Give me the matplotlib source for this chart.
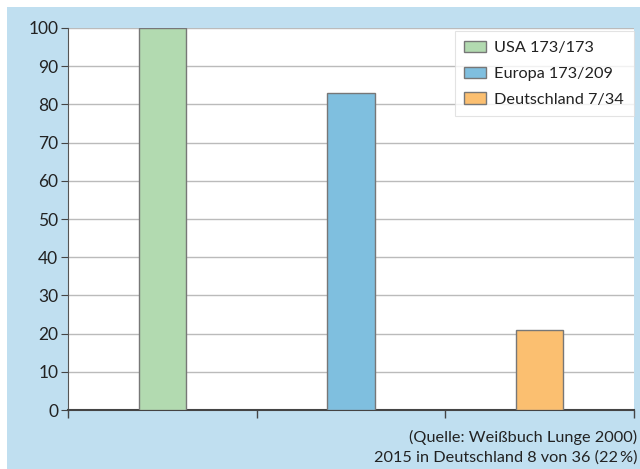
import matplotlib
matplotlib.use("Agg")
import matplotlib.pyplot as plt
from matplotlib.patches import Rectangle

plt.rcParams['font.family'] = ['Lato', 'DejaVu Sans']

labels = ["USA 173/173", "Europa 173/209", "Deutschland 7/34"]
values = [100, 83, 21]
colors = ["#b2dab0", "#7fbfdf", "#fbbf70"]
yticks = list(range(0, 101, 10))
notes = ["(Quelle: Weißbuch Lunge 2000)", "2015 in Deutschland 8 von 36 (22\u2009%)"]

fig = plt.figure(figsize=(6.4, 4.69), dpi=100)
fig.patch.set_facecolor("white")
fig.patches.append(Rectangle((7/640, 0), 633/640, (469-7)/469, transform=fig.transFigure,
                             facecolor="#c0dff0", edgecolor="none", zorder=-10))

ax = fig.add_axes([68/640, (469-410)/469, (634-68)/640, (410-28)/469])
ax.set_facecolor("white")
x = range(len(values))
bars = ax.bar(x, values, width=0.25, color=colors, edgecolor="#777777", linewidth=1, zorder=3)

ax.set_xlim(-0.5, len(values) - 0.5)
ax.set_ylim(0, 100)
ax.set_yticks(yticks)
ax.set_xticks([i - 0.5 for i in range(len(values) + 1)])
ax.set_xticklabels([])
ax.yaxis.grid(True, color="#bbbbbb", linewidth=1, zorder=0)
ax.set_axisbelow(True)
for s in ["top", "right"]:
    ax.spines[s].set_visible(False)
ax.spines["left"].set_color("#555555")
ax.spines["bottom"].set_color("#444444")
ax.spines["bottom"].set_linewidth(1.5)
ax.tick_params(axis="y", length=5, color="#444444", labelsize=12.5, labelcolor="#222222", pad=2)
ax.tick_params(axis="x", length=6, color="#444444", width=1)

leg = ax.legend(bars, labels, loc="upper right", bbox_to_anchor=(1.0, 0.992), fontsize=11.7,
                frameon=True, fancybox=False, borderaxespad=0, handlelength=1.3,
                handleheight=0.7, labelspacing=0.7, handletextpad=0.55, borderpad=0.6)
leg.get_frame().set_edgecolor("#dddddd")
leg.get_frame().set_linewidth(0.8)
for t in leg.get_texts():
    t.set_color("#222222")

fig.text(637/640, 1 - 437/469, notes[0], ha="right", va="center", fontsize=11.7, color="#222222")
fig.text(637/640, 1 - 458/469, notes[1], ha="right", va="center", fontsize=11.7, color="#222222")

fig.savefig("out.png", dpi=100)
